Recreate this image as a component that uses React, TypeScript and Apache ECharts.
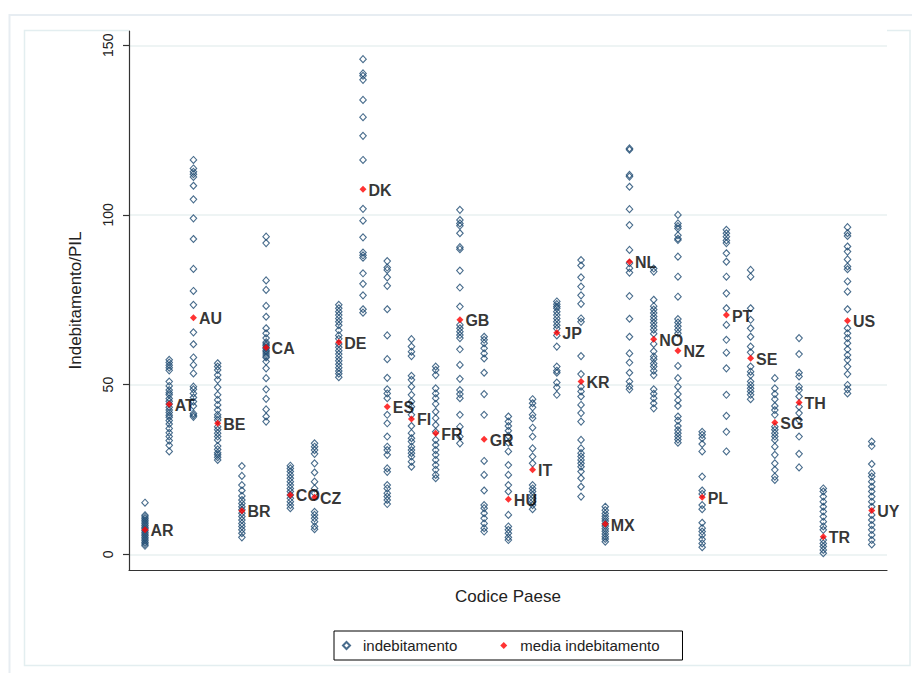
import React, { useEffect, useRef } from "react";
import * as echarts from "echarts";

// Country codes (x categories, positioned 1..31)
const countries = [
  "AR", "AT", "AU", "BE", "BR", "CA", "CO", "CZ", "DE", "DK", "ES", "FI", "FR", "GB", "GR", "HU",
  "IT", "JP", "KR", "MX", "NL", "NO", "NZ", "PL", "PT", "SE", "SG", "TH", "TR", "US", "UY",
];

const debtAR = [15.2, 11.5, 11.0, 10.5, 10.0, 9.5, 9.0, 8.5, 8.0, 7.5, 7.0, 6.5, 6.0, 5.5, 5.0, 4.5, 4.0, 3.5, 3.0, 2.5];
const debtAT = [57.3, 56.5, 55.7, 55.0, 54.2, 50.9, 49.6, 48.4, 47.6, 47.0, 45.9, 45.1, 44.3, 43.3, 42.5, 41.8, 41.0, 40.4, 39.4, 38.4, 37.1, 35.8, 34.7, 33.5, 32.1, 30.3];
const debtAU = [116.2, 113.7, 112.7, 112.0, 111.2, 108.6, 104.6, 99.0, 92.9, 84.1, 77.6, 73.5, 65.4, 61.9, 58.0, 55.8, 53.3, 49.4, 48.6, 47.4, 46.2, 45.0, 43.7, 41.5, 41.0, 40.5];
const debtBE = [56.3, 55.3, 54.3, 52.8, 51.4, 49.2, 47.0, 45.5, 44.0, 42.5, 41.1, 40.4, 39.6, 37.6, 36.7, 35.7, 34.7, 33.7, 31.9, 30.9, 29.9, 29.3, 28.6, 27.8];
const debtBR = [26.0, 23.1, 20.4, 18.8, 17.2, 16.0, 15.0, 14.0, 13.1, 12.1, 11.1, 10.1, 9.1, 8.2, 7.2, 6.2, 5.0];
const debtCA = [93.6, 91.7, 80.7, 77.9, 73.2, 70.0, 66.6, 65.1, 63.7, 62.5, 62.0, 61.5, 61.0, 60.6, 60.0, 59.6, 59.0, 58.4, 58.0, 56.8, 54.8, 51.9, 48.6, 45.8, 42.7, 40.6, 39.1];
const debtCO = [26.1, 25.3, 24.4, 23.4, 22.4, 21.4, 20.4, 19.4, 18.5, 17.5, 16.5, 15.5, 14.5, 13.6];
const debtCZ = [32.7, 31.7, 30.7, 29.6, 26.8, 24.1, 21.4, 19.4, 18.0, 12.5, 11.6, 10.6, 9.6, 8.2, 7.4];
const debtDE = [73.5, 72.5, 71.5, 70.5, 69.5, 68.5, 67.5, 66.0, 64.5, 63.5, 62.0, 61.0, 60.0, 59.0, 58.0, 57.0, 56.0, 55.0, 54.0, 53.2, 52.2];
const debtDK = [145.9, 141.7, 141.0, 139.8, 133.9, 128.8, 123.3, 116.2, 101.8, 98.3, 93.4, 88.9, 88.1, 87.4, 82.8, 79.7, 76.3, 72.2, 71.2];
const debtES = [86.4, 84.5, 83.8, 81.6, 79.1, 72.2, 64.5, 57.5, 52.0, 48.6, 47.4, 46.0, 41.1, 38.6, 34.7, 31.7, 30.7, 29.3, 25.3, 24.3, 20.4, 19.4, 18.0, 17.0, 16.0, 14.8];
const debtFI = [63.4, 61.2, 59.7, 58.4, 52.6, 51.4, 49.4, 47.0, 45.0, 43.5, 41.1, 37.8, 35.7, 34.2, 33.2, 31.7, 30.7, 29.8, 28.8, 27.3, 25.8];
const debtFR = [55.3, 54.3, 52.8, 48.9, 47.4, 46.0, 44.3, 42.0, 40.1, 38.1, 36.1, 33.7, 32.2, 30.7, 29.3, 27.8, 26.3, 24.9, 23.4, 22.4];
const debtGB = [101.5, 98.5, 97.5, 96.8, 94.6, 90.5, 89.9, 83.6, 78.6, 73.0, 67.6, 66.6, 65.6, 64.6, 63.7, 60.4, 55.8, 51.7, 48.4, 47.2, 46.0, 41.1, 37.6, 34.7, 32.7];
const debtGR = [64.1, 63.2, 62.2, 60.7, 59.2, 57.7, 53.5, 47.2, 41.1, 27.5, 23.4, 18.8, 14.5, 13.6, 12.1, 10.6, 9.1, 7.7, 6.7];
const debtHU = [40.6, 39.1, 37.8, 36.4, 34.9, 32.9, 30.3, 26.3, 23.4, 20.4, 18.5, 11.6, 8.2, 7.2, 6.2, 5.0, 4.2];
const debtIT = [45.7, 44.5, 43.3, 41.1, 40.1, 37.3, 34.7, 31.2, 28.8, 26.8, 20.4, 19.4, 18.5, 17.5, 16.5, 15.5, 14.5, 13.3];
const debtJP = [74.5, 73.7, 73.0, 72.5, 71.5, 70.5, 69.5, 68.5, 67.5, 66.5, 64.5, 61.2, 55.3, 54.1, 53.5, 50.6, 49.2, 47.0];
const debtKR = [86.7, 85.1, 81.6, 78.9, 76.3, 73.8, 69.5, 68.5, 58.4, 53.1, 49.4, 48.0, 46.5, 44.0, 41.6, 39.1, 33.7, 31.2, 29.8, 28.8, 27.8, 26.8, 25.8, 24.4, 22.4, 19.9, 17.0];
const debtMX = [14.0, 13.0, 12.0, 11.2, 10.5, 9.8, 9.0, 8.3, 7.5, 6.8, 6.0, 5.2, 4.5, 3.7];
const debtNL = [119.6, 119.2, 111.8, 111.3, 108.3, 101.7, 97.0, 89.7, 85.8, 84.3, 83.0, 76.1, 69.4, 64.1, 59.2, 56.5, 53.5, 50.9, 49.5, 48.6];
const debtNO = [84.2, 83.3, 75.0, 73.1, 72.1, 71.1, 70.1, 69.2, 68.2, 67.2, 66.2, 65.0, 62.0, 59.8, 58.3, 57.5, 56.2, 55.3, 54.1, 52.8, 48.6, 47.3, 46.0, 44.5, 43.0];
const debtNZ = [100.0, 97.5, 96.7, 96.0, 94.0, 93.0, 92.6, 87.7, 81.8, 75.9, 69.3, 68.3, 67.2, 66.2, 65.1, 55.5, 51.9, 49.4, 47.2, 45.4, 43.7, 40.6, 39.4, 37.8, 36.6, 35.7, 34.7, 33.8, 32.9];
const debtPL = [36.1, 35.2, 34.2, 32.5, 30.3, 22.9, 18.8, 17.8, 14.5, 13.3, 9.3, 7.7, 6.7, 5.7, 4.4, 3.2, 2.1];
const debtPT = [95.6, 94.6, 93.6, 92.5, 91.7, 88.7, 86.2, 81.8, 76.9, 72.5, 67.6, 63.2, 59.4, 54.8, 47.0, 40.8, 36.1, 30.3];
const debtSE = [83.8, 81.8, 72.5, 69.1, 66.6, 64.1, 61.2, 59.5, 55.3, 53.8, 52.8, 50.9, 49.9, 48.9, 48.0, 47.0, 45.7];
const debtSG = [51.9, 48.9, 47.2, 45.7, 43.7, 42.5, 41.1, 37.6, 36.7, 35.7, 34.7, 33.7, 31.7, 29.3, 26.8, 24.9, 22.9, 21.9];
const debtTH = [63.7, 59.0, 53.5, 52.4, 49.4, 48.4, 46.5, 43.5, 41.6, 39.6, 34.7, 29.6, 25.6];
const debtTR = [19.4, 18.5, 17.0, 15.5, 14.0, 12.6, 11.1, 9.6, 8.2, 7.2, 4.2, 3.2, 2.3, 1.3, 0.3];
const debtUS = [96.4, 94.6, 93.8, 90.7, 89.2, 86.9, 84.8, 84.0, 80.4, 77.4, 72.2, 66.6, 65.1, 63.7, 62.2, 60.4, 58.7, 57.3, 55.3, 53.1, 49.9, 48.6, 47.4];
const debtUY = [33.2, 31.9, 26.6, 23.9, 22.9, 21.4, 19.9, 18.5, 17.0, 15.5, 14.0, 11.6, 10.1, 8.6, 7.2, 5.7, 4.2, 2.9];

const debtByCountry = [
  debtAR, debtAT, debtAU, debtBE, debtBR, debtCA, debtCO, debtCZ, debtDE, debtDK, debtES, debtFI, debtFR, debtGB, debtGR, debtHU,
  debtIT, debtJP, debtKR, debtMX, debtNL, debtNO, debtNZ, debtPL, debtPT, debtSE, debtSG, debtTH, debtTR, debtUS, debtUY,
];

// Mean indebitamento per country
const meanDebt = [
  7.2, 44.2, 69.7, 38.6, 12.8, 60.9, 17.5, 16.8, 62.5, 107.6, 43.5, 39.9, 35.7, 69.1, 33.9, 16.2,
  24.9, 65.3, 50.9, 8.9, 86.2, 63.4, 60.0, 16.8, 70.5, 57.8, 38.8, 44.7, 5.2, 68.8, 12.9,
];

const yTicks = [0, 50, 100, 150];

const FONT = "'Liberation Sans', Arial, sans-serif";
const NAVY = "#1a476f";

export default function App() {
  const ref = useRef<HTMLDivElement>(null);

  useEffect(() => {
    if (!ref.current) return;
    const chart = echarts.init(ref.current, undefined, { renderer: "svg" });

    const obs: [number, number][] = [];
    debtByCountry.forEach((arr, i) => arr.forEach((v) => obs.push([i + 1, v])));
    const means = meanDebt.map((m, i) => ({ value: [i + 1, m], name: countries[i] }));

    chart.setOption({
      animation: false,
      backgroundColor: "#ffffff",
      textStyle: { fontFamily: FONT },
      grid: { left: 129, right: 25, top: 31, bottom: 103, containLabel: false },
      graphic: [
        {
          type: "polyline",
          z: -10,
          silent: true,
          shape: { points: [[9.5, 673], [9.5, 15], [912, 15]] },
          style: { stroke: "#e7edf2", lineWidth: 2, fill: "none" },
        },
        {
          type: "polyline",
          z: -10,
          silent: true,
          shape: { points: [[129, 30.5], [24.5, 30.5], [24.5, 665.5], [910, 665.5], [910, 30.5], [887, 30.5]] },
          style: { stroke: "#e3eef0", lineWidth: 1.5, fill: "none" },
        },
      ],
      legend: {
        show: true,
        left: 334,
        top: 631,
        orient: "horizontal",
        itemWidth: 7,
        itemHeight: 7,
        itemGap: 43,
        padding: [7, 23, 7, 8],
        borderColor: "#000",
        borderWidth: 1,
        borderRadius: 0,
        backgroundColor: "#fff",
        formatter: (name: string) => "{t|" + name + "}",
        textStyle: {
          fontFamily: FONT,
          fontSize: 15,
          color: "#222",
          rich: { t: { fontFamily: FONT, fontSize: 15, color: "#222", padding: [0, 0, 0, 8] } },
        },
        data: ["indebitamento", "media indebitamento"],
      },
      xAxis: {
        type: "value",
        min: 0.34,
        max: 31.63,
        name: "Codice Paese",
        nameLocation: "middle",
        nameGap: 18,
        nameTextStyle: { fontFamily: FONT, fontSize: 17, color: "#222" },
        axisLine: { show: true, onZero: false, lineStyle: { color: "#333", width: 1.2 } },
        axisTick: { show: false },
        axisLabel: { show: false },
        splitLine: { show: false },
      },
      yAxis: {
        type: "value",
        min: -4.63,
        max: 154.2,
        name: "Indebitamento/PIL",
        nameLocation: "middle",
        nameGap: 45,
        nameTextStyle: { fontFamily: FONT, fontSize: 17, color: "#222" },
        axisLine: { show: true, onZero: false, lineStyle: { color: "#333", width: 1.2 } },
        axisTick: { show: true, length: 6, customValues: yTicks, lineStyle: { color: "#333", width: 1.2 } },
        axisLabel: { show: true, customValues: yTicks, rotate: 90, margin: 14, fontFamily: FONT, fontSize: 14, color: "#222" },
        splitLine: { show: true, lineStyle: { color: "#e8f0f1", width: 1.5 } },
      },
      series: [
        {
          name: "indebitamento",
          type: "scatter",
          symbol: "diamond",
          symbolSize: [6.5, 7],
          itemStyle: { color: "rgba(255,255,255,0)", borderColor: NAVY, borderWidth: 1.1 },
          data: obs,
          z: 2,
        },
        {
          name: "media indebitamento",
          type: "scatter",
          symbol: "diamond",
          symbolSize: 7,
          itemStyle: { color: "#ff0000" },
          data: means,
          z: 3,
          label: {
            show: true,
            position: "right",
            distance: 2,
            offset: [0, 1],
            formatter: "{b}",
            fontFamily: FONT,
            fontSize: 16,
            fontWeight: "bold",
            color: "#000",
          },
        },
      ],
    });

    return () => chart.dispose();
  }, []);

  return <div ref={ref} style={{ position: "fixed", left: 0, top: 0, width: 912, height: 673 }} />;
}
